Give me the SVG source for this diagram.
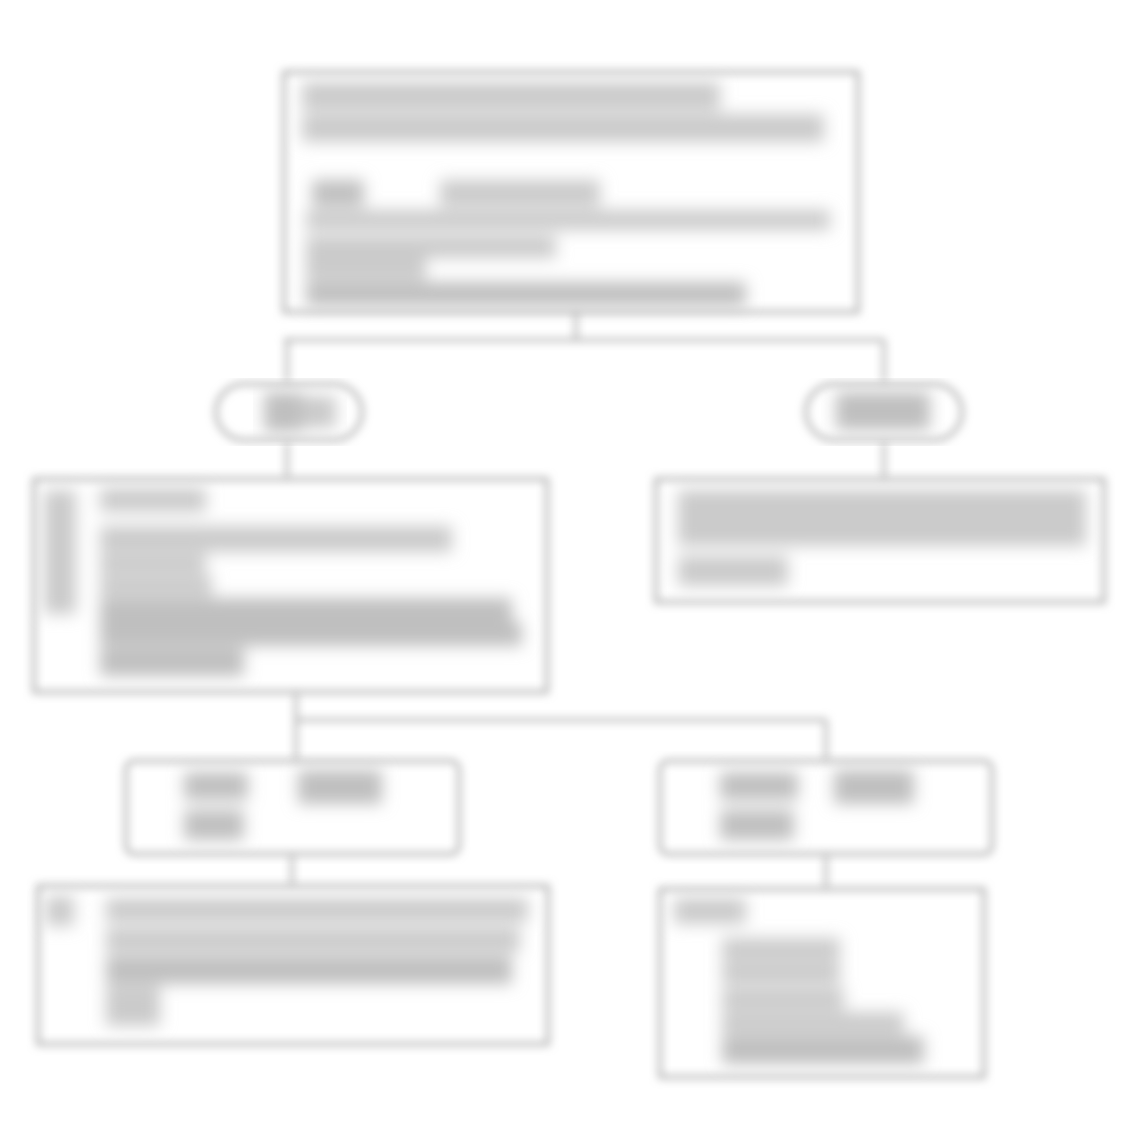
<svg xmlns="http://www.w3.org/2000/svg" width="1141" height="1144" viewBox="0 0 1141 1144">
<style>
.box{fill:none;stroke:#a8a8a8;stroke-width:3.5}
.conn{fill:none;stroke:#b0b0b0;stroke-width:3.5}
.ink{fill:#cbcbcb}
.inkd{fill:#bfbfbf}
</style>
<defs>
<filter id="soft" x="-10%" y="-10%" width="120%" height="120%"><feGaussianBlur stdDeviation="4.5"/></filter>
<filter id="smudge" x="-15%" y="-25%" width="130%" height="150%"><feGaussianBlur stdDeviation="8"/></filter>
</defs>
<rect width="1141" height="1144" fill="#ffffff"/>
<g id="connectors" filter="url(#soft)">
<path class="conn" d="M576 312 V340 M284 340 H884 M287 340 V382 M884 340 V382"/>
<path class="conn" d="M287 442 V478 M884 442 V478"/>
<path class="conn" d="M296 693 V720 H826 M296 720 V760 M826 720 V760"/>
<path class="conn" d="M292 855 V885 M826 855 V888"/>
</g>
<g id="node-top">
<rect class="box" x="284" y="72" width="574" height="240" filter="url(#soft)"/>
<g filter="url(#smudge)">
<rect class="ink" x="302" y="82" width="418" height="28"/>
<rect class="ink" x="302" y="114" width="522" height="28"/>
<rect class="inkd" x="312" y="180" width="52" height="26"/>
<rect class="ink" x="440" y="180" width="160" height="26"/>
<rect class="ink" x="306" y="210" width="524" height="20"/>
<rect class="ink" x="306" y="236" width="250" height="22"/>
<rect class="ink" x="306" y="258" width="120" height="22"/>
<rect class="inkd" x="306" y="282" width="440" height="24"/>
</g>
</g>
<g id="node-oval-left">
<rect class="box" x="216" y="384" width="146" height="56" rx="28" filter="url(#soft)"/>
<g filter="url(#smudge)">
<rect class="inkd" x="264" y="392" width="38" height="40"/>
<rect class="ink" x="302" y="396" width="34" height="32"/>
</g>
</g>
<g id="node-oval-right">
<rect class="box" x="806" y="384" width="156" height="56" rx="28" filter="url(#soft)"/>
<g filter="url(#smudge)">
<rect class="inkd" x="836" y="392" width="94" height="38"/>
</g>
</g>
<g id="node-left">
<rect class="box" x="34" y="479" width="513" height="213" filter="url(#soft)"/>
<g filter="url(#smudge)">
<rect class="ink" x="44" y="490" width="32" height="124"/>
<rect class="ink" x="100" y="488" width="106" height="24"/>
<rect class="ink" x="100" y="526" width="352" height="26"/>
<rect class="ink" x="100" y="554" width="106" height="20"/>
<rect class="ink" x="100" y="576" width="112" height="20"/>
<rect class="inkd" x="100" y="598" width="412" height="24"/>
<rect class="inkd" x="100" y="622" width="422" height="24"/>
<rect class="inkd" x="100" y="648" width="144" height="28"/>
</g>
</g>
<g id="node-right">
<rect class="box" x="656" y="479" width="448" height="123" filter="url(#soft)"/>
<g filter="url(#smudge)">
<rect class="ink" x="678" y="490" width="408" height="28"/>
<rect class="ink" x="678" y="518" width="408" height="28"/>
<rect class="ink" x="678" y="556" width="110" height="30"/>
</g>
</g>
<g id="node-mid-left">
<rect class="box" x="126" y="761" width="333" height="93" rx="8" filter="url(#soft)"/>
<g filter="url(#smudge)">
<rect class="inkd" x="184" y="772" width="64" height="28"/>
<rect class="inkd" x="298" y="770" width="84" height="34"/>
<rect class="inkd" x="184" y="810" width="60" height="30"/>
</g>
</g>
<g id="node-mid-right">
<rect class="box" x="660" y="761" width="332" height="93" rx="8" filter="url(#soft)"/>
<g filter="url(#smudge)">
<rect class="inkd" x="720" y="772" width="78" height="28"/>
<rect class="inkd" x="834" y="770" width="80" height="34"/>
<rect class="inkd" x="720" y="810" width="74" height="30"/>
</g>
</g>
<g id="node-bottom-left">
<rect class="box" x="38" y="886" width="510" height="158" filter="url(#soft)"/>
<g filter="url(#smudge)">
<rect class="ink" x="46" y="896" width="28" height="30"/>
<rect class="ink" x="106" y="898" width="422" height="24"/>
<rect class="ink" x="106" y="928" width="414" height="24"/>
<rect class="inkd" x="106" y="956" width="406" height="28"/>
<rect class="ink" x="106" y="986" width="54" height="40"/>
</g>
</g>
<g id="node-bottom-right">
<rect class="box" x="660" y="889" width="324" height="188" filter="url(#soft)"/>
<g filter="url(#smudge)">
<rect class="ink" x="674" y="898" width="72" height="26"/>
<rect class="ink" x="722" y="938" width="118" height="22"/>
<rect class="ink" x="722" y="962" width="118" height="22"/>
<rect class="ink" x="722" y="988" width="122" height="22"/>
<rect class="ink" x="722" y="1012" width="182" height="22"/>
<rect class="inkd" x="722" y="1036" width="202" height="28"/>
</g>
</g>
</svg>
